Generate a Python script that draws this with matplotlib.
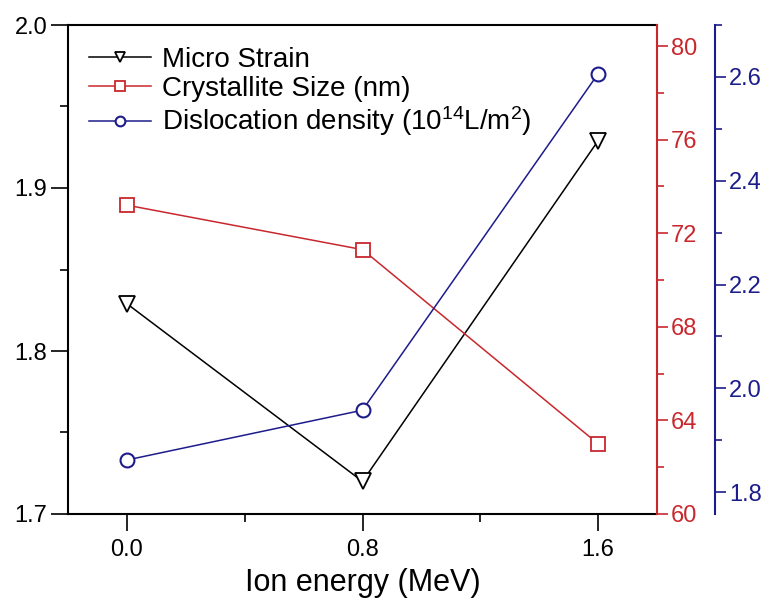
import numpy as np
import matplotlib.pyplot as plt
from matplotlib.ticker import MultipleLocator

plt.rcParams['font.family'] = ['Liberation Sans', 'DejaVu Sans']
plt.rcParams['mathtext.fontset'] = 'custom'
plt.rcParams['mathtext.rm'] = 'Liberation Sans'
plt.rcParams['mathtext.it'] = 'Liberation Sans:italic'

# data
energy = [0.0, 0.8, 1.6]
micro_strain = [1.829, 1.720, 1.929]
cryst_size = [73.2, 71.3, 63.0]
disl_density = [1.862, 1.958, 2.606]

red = '#c8282d'
blue = '#1c1c8c'

fig = plt.figure(figsize=(7.61, 6.02), dpi=100)
ax = fig.add_axes([68/761, 1-514/602, (657-68)/761, (514-25)/602])
ax2 = ax.twinx()
ax3 = ax.twinx()
ax3.spines['right'].set_position(('outward', 58*0.72))

l1, = ax.plot(energy, micro_strain, '-', color='black', lw=1.1, marker='v',
              ms=11, mfc='white', mec='black', mew=1.3, label='Micro Strain')
l2, = ax2.plot(energy, cryst_size, '-', color=red, lw=1.1, marker='s',
               ms=10, mfc='white', mec=red, mew=1.3, label='Crystallite Size (nm)')
l3, = ax3.plot(energy, disl_density, '-', color=blue, lw=1.1, marker='o',
               ms=10, mfc='white', mec=blue, mew=1.5,
               label='Dislocation density (10$^{14}$L/m$^{2}$)')

ax.set_xlim(-0.2, 1.8)
ax.set_ylim(1.7, 2.0)
ax2.set_ylim(60, 80.9)
ax3.set_ylim(1.758, 2.70)

ax.xaxis.set_major_locator(MultipleLocator(0.8))
ax.xaxis.set_minor_locator(MultipleLocator(0.4))
ax.set_yticks([1.7, 1.8, 1.9, 2.0])
ax.set_yticklabels(['1.7', '1.8', '1.9', '2.0'])
ax.yaxis.set_minor_locator(MultipleLocator(0.05))
ax2.yaxis.set_major_locator(MultipleLocator(4))
ax2.yaxis.set_minor_locator(MultipleLocator(2))
ax3.set_yticks([1.8, 2.0, 2.2, 2.4, 2.6])
ax3.yaxis.set_minor_locator(MultipleLocator(0.1))

ax.tick_params(axis='both', which='major', direction='out', length=12, width=1.2,
               labelsize=17, color='black')
ax.tick_params(axis='both', which='minor', direction='out', length=6, width=1.2)
ax.tick_params(axis='x', pad=6)
ax.tick_params(axis='y', pad=3)

ax2.tick_params(axis='y', which='major', direction='out', length=8, width=1.2,
                colors=red, labelsize=17, pad=2)
ax2.tick_params(axis='y', which='minor', direction='out', length=5, width=1.2, colors=red)
ax3.tick_params(axis='y', which='major', direction='out', length=8, width=1.2,
                colors=blue, labelsize=17, pad=2)
ax3.tick_params(axis='y', which='minor', direction='out', length=5, width=1.2, colors=blue)

for s in ['left', 'bottom', 'top']:
    ax.spines[s].set_linewidth(1.5)
ax.spines['right'].set_visible(False)
ax2.spines['right'].set_color(red)
ax2.spines['right'].set_linewidth(1.5)
for s in ['left', 'bottom', 'top']:
    ax2.spines[s].set_visible(False)
    ax3.spines[s].set_visible(False)
ax3.spines['right'].set_color(blue)
ax3.spines['right'].set_linewidth(1.5)

ax.set_xlabel('Ion energy (MeV)', fontsize=22, labelpad=5)

ax.legend(handles=[l1, l2, l3], loc='upper left', bbox_to_anchor=(-0.006, 1.006),
          frameon=False, fontsize=20, handlelength=2.2, handletextpad=0.4,
          labelspacing=0.1, markerscale=0.7)

fig.savefig('out.png', dpi=100)
